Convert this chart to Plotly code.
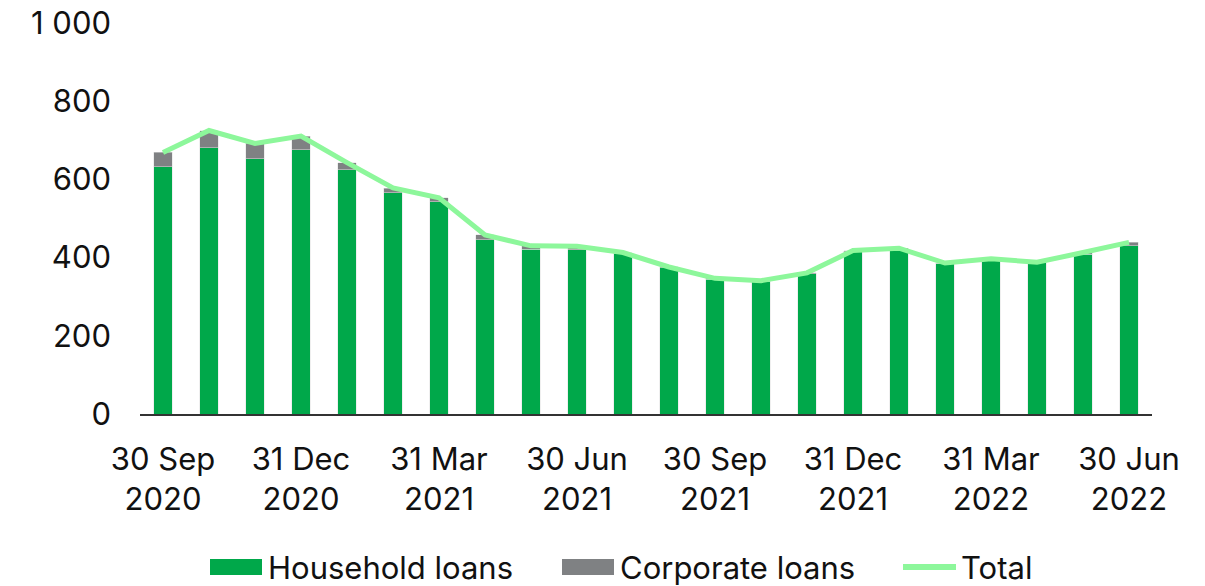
import plotly.graph_objects as go

periods = ["Sep 2020", "Oct 2020", "Nov 2020", "Dec 2020", "Jan 2021", "Feb 2021", "Mar 2021",
           "Apr 2021", "May 2021", "Jun 2021", "Jul 2021", "Aug 2021", "Sep 2021", "Oct 2021",
           "Nov 2021", "Dec 2021", "Jan 2022", "Feb 2022", "Mar 2022", "Apr 2022", "May 2022", "Jun 2022"]
household = [632, 681, 653, 676, 625, 566, 543, 446, 422, 420, 411, 374, 345, 339, 359, 415, 421, 385, 396, 387, 408, 430]
corporate = [37, 44, 39, 35, 18, 12, 10, 12, 8, 9, 2, 2, 2, 2, 2, 3, 3, 1, 1, 1, 5, 9]
total = [h + c for h, c in zip(household, corporate)]
tick_idx = [0, 3, 6, 9, 12, 15, 18, 21]
tick_labels = ["30 Sep<br>2020", "31 Dec<br>2020", "31 Mar<br>2021", "30 Jun<br>2021",
               "30 Sep<br>2021", "31 Dec<br>2021", "31 Mar<br>2022", "30 Jun<br>2022"]
y_ticks = [0, 200, 400, 600, 800, 1000]
y_labels = ["0", "200", "400", "600", "800", "1 000"]
series_names = ["Household loans", "Corporate loans", "Total"]
colors = ["#00A84A", "#7F8183", "#8DF79B"]

x = list(range(len(periods)))
fig = go.Figure()
fig.add_trace(go.Bar(x=x, y=household, name=series_names[0], marker_color=colors[0],
                     marker_line=dict(color="#e0e0e0", width=0.5), width=0.4, showlegend=False))
fig.add_trace(go.Bar(x=x, y=corporate, name=series_names[1], marker_color=colors[1],
                     marker_line=dict(color="#e0e0e0", width=0.5), width=0.4, showlegend=False))
fig.add_trace(go.Scatter(x=x, y=total, name=series_names[2], mode="lines",
                         line=dict(color=colors[2], width=5), showlegend=False))

# manual legend (paper coords; plot area spans viewport px 140..1152 wide, 23..414 tall)
PW, PH, L, B = 1012.0, 391.0, 140.0, 414.0
def px(v):
    return (v - L) / PW
def py(v):
    return (B - v) / PH

LEG_Y = 567
fig.add_shape(type="rect", xref="paper", yref="paper", x0=px(210), x1=px(262), y0=py(LEG_Y + 8), y1=py(LEG_Y - 8),
              fillcolor=colors[0], line=dict(width=0))
fig.add_shape(type="rect", xref="paper", yref="paper", x0=px(562), x1=px(614), y0=py(LEG_Y + 8), y1=py(LEG_Y - 8),
              fillcolor=colors[1], line=dict(width=0))
fig.add_shape(type="line", xref="paper", yref="paper", x0=px(903), x1=px(956), y0=py(LEG_Y), y1=py(LEG_Y),
              line=dict(color=colors[2], width=6))
for name, xpos in zip(series_names, [266, 618, 959]):
    fig.add_annotation(text=name, xref="paper", yref="paper", x=px(xpos), y=py(LEG_Y),
                       xanchor="left", yanchor="middle", showarrow=False,
                       font=dict(size=31, color="#111111"))

# page body has an 8px offset, so the figure is 8px smaller than the viewport
fig.update_layout(
    barmode="stack",
    width=1197, height=578,
    margin=dict(l=132, r=53, t=15, b=172, autoexpand=False),
    paper_bgcolor="white", plot_bgcolor="white",
    font=dict(family="Inter, Roboto, sans-serif", size=32, color="#111111"),
    showlegend=False,
    xaxis=dict(range=[-0.5, 21.5], tickvals=tick_idx, ticktext=tick_labels, showgrid=False,
               showline=True, linecolor="#333333", linewidth=1.5, ticks="", zeroline=False,
               automargin=False, ticklabelstandoff=17, tickfont=dict(size=31),
               ticklabeloverflow="allow"),
    yaxis=dict(range=[0, 1000], tickvals=y_ticks, ticktext=y_labels, showgrid=False,
               showline=False, zeroline=False, ticks="", ticklabelstandoff=28,
               automargin=False, tickfont=dict(size=31), ticklabeloverflow="allow"),
)
fig.write_html("out.html")
